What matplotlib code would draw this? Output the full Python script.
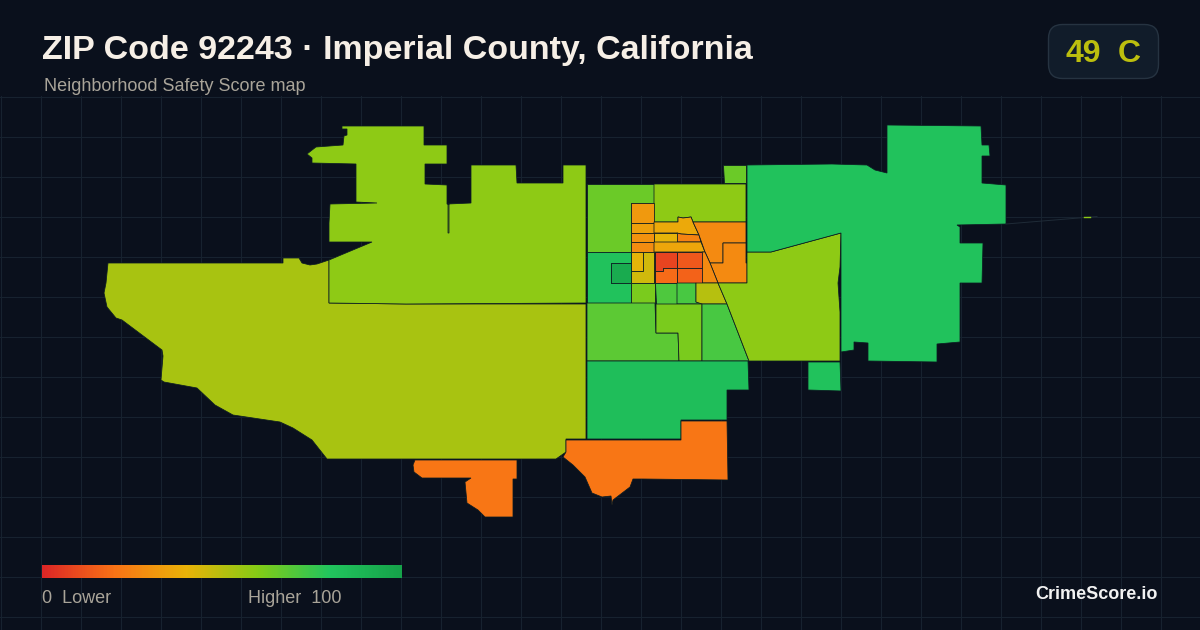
import numpy as np
import matplotlib
matplotlib.use("Agg")
import matplotlib.pyplot as plt
from matplotlib.colors import LinearSegmentedColormap
from matplotlib.patches import FancyBboxPatch, Polygon

plt.rcParams['font.family'] = ['Liberation Sans', 'DejaVu Sans']

# score scale used by the map and by the legend bar
scale_stops = [0, 0.2, 0.4, 0.6, 0.8, 1]
scale_colors = ['#dc2626', '#f97316', '#eab308', '#84cc16', '#22c55e', '#16a34a']
cmap = LinearSegmentedColormap.from_list('score', list(zip(scale_stops, scale_colors)))

title = 'ZIP Code 92243 · Imperial County, California'
subtitle = 'Neighborhood Safety Score map'
score = 49
grade = 'C'

# block groups, outlines (pixels), with their score
west = [(108,263),(195,263),(283,263),(283,258),(299,258),(302,263),(310,265),(317,264),(329,260),(329,303),
        (406,304),(586,304),(586,439),(566,439),(566,452),(556,459),(327,459),(312,440),(293,428),(280,422),
        (233,415),(215,405),(197,388),(164,382),(161,380),(163,356),(162,350),(122,320),(116,318),(107,307),
        (104,293),(106,283)]
north_west = [(342,126),(424,126),(424,145),(447,145),(447,164),(425,164),(425,184),(447,185),(447,204),(449,204),
              (449,233),(448,233),(448,204),(471,203),(471,165),(516,165),(517,183),(563,183),(563,165),(586,165),
              (586,303),(406,304),(329,303),(329,260),(372,242),(329,242),(329,223),(330,204),(377,203),(356,202),
              (356,164),(312,163),(312,158),(307,154),(316,147),(343,145),(344,136),(347,135),(347,129),(342,129)]
north_mid = [(587,184),(654,184),(654,203),(631,203),(631,252),(587,252)]
top_small = [(723,165),(746,165),(746,183),(724,183)]
top_right = [(654,184),(746,184),(746,222),(693,222),(691,217),(683,218),(678,217),(678,222),(654,222)]
orange_n = [(631,203),(654,203),(654,223),(631,223)]
orange_r2 = [(631,223),(654,223),(654,233),(631,233)]
orange_r3 = [(631,233),(654,233),(654,242),(631,242)]
orange_r4 = [(631,242),(654,242),(654,252),(631,252)]
mid_top = [(654,222),(678,222),(678,217),(683,218),(691,217),(693,222),(699,235),(681,234),(677,233),(654,233)]
mid_right = [(677,233),(681,234),(699,235),(701,242),(677,242)]
mid_yellow = [(654,233),(677,233),(677,242),(654,242)]
mid_band = [(654,242),(701,242),(705,252),(654,252)]
east_orange = [(693,222),(746,222),(746,243),(723,243),(723,263),(710,263),(705,252),(699,235)]
east_orange2 = [(723,243),(746,243),(746,263),(747,263),(747,283),(718,283),(710,263),(723,263)]
east_orange3 = [(702,252),(705,252),(710,263),(718,283),(702,283)]
red_a = [(655,252),(677,252),(677,268),(663,268),(663,271),(655,271)]
red_b = [(677,252),(702,252),(702,268),(677,268)]
red_c = [(655,271),(663,271),(663,268),(677,268),(677,283),(655,283)]
red_d = [(677,268),(702,268),(702,283),(677,283)]
yellow_a = [(631,252),(643,252),(643,271),(631,271)]
yellow_b = [(643,252),(654,252),(654,283),(631,283),(631,271),(643,271)]
west_center = [(587,252),(631,252),(631,263),(611,263),(611,283),(631,283),(631,303),(587,303)]
dark_green = [(611,263),(631,263),(631,283),(611,283)]
low_a = [(631,283),(655,283),(655,303),(631,303)]
low_b = [(655,283),(677,283),(677,304),(656,304)]
low_c = [(677,283),(696,283),(696,302),(702,303),(702,304),(677,304)]
low_yellow = [(696,283),(718,283),(727,304),(702,304),(696,302)]
south_a = [(587,303),(655,303),(656,333),(678,333),(679,361),(587,361)]
south_b = [(656,304),(702,304),(702,361),(679,361),(678,333),(656,333)]
south_c = [(702,304),(727,304),(749,361),(702,361)]
east_lime = [(747,252),(771,252),(841,233),(840,267),(838,283),(840,312),(840,361),(749,361),(727,304),(718,283),(747,283),(747,263)]
east = [(747,165),(832,164),(867,165),(875,170),(887,173),(887,125),(981,126),(982,145),(989,145),(990,156),
        (982,156),(982,183),(1006,185),(1006,224),(957,225),(960,227),(960,243),(983,243),(982,283),(960,283),
        (960,342),(937,344),(937,362),(868,361),(868,343),(854,342),(854,350),(841,352),(841,233),(771,252),(747,252)]
east_small = [(808,362),(840,362),(841,391),(808,390)]
south_green = [(587,361),(748,361),(749,390),(727,390),(727,420),(681,420),(681,439),(587,439)]
south_orange = [(566,440),(681,440),(681,421),(727,421),(728,480),(643,479),(633,479),(630,487),(613,500),(612,505),
                (611,496),(602,497),(592,493),(585,477),(573,465),(563,457),(566,452)]
south_west = [(415,460),(517,460),(517,479),(513,479),(513,517),(485,517),(478,510),(467,503),(465,482),(471,478),
              (422,478),(414,472),(413,465)]

regions = [west, north_west, north_mid, top_small, top_right, orange_n, orange_r2, orange_r3, orange_r4,
           mid_top, mid_right, mid_yellow, mid_band, east_orange, east_orange2, east_orange3,
           red_a, red_b, red_c, red_d, yellow_a, yellow_b, west_center, dark_green,
           low_a, low_b, low_c, low_yellow, south_a, south_b, south_c, east_lime, east, east_small,
           south_green, south_orange, south_west]
scores = [53, 58, 65, 65, 58, 32, 34, 30, 28,
          37, 25, 41, 36, 27, 27, 27,
          8, 13, 18, 16, 41, 45, 82, 95,
          62, 71, 72, 50, 68, 62, 72, 58, 82, 82,
          84, 21, 21]

fig = plt.figure(figsize=(12, 6.3), dpi=100, facecolor='#0a101c')
ax = fig.add_axes([0, 0, 1, 1])
ax.set_facecolor('#0a101c')
ax.axis('off')

# background grid, starts under the header
for gx in np.arange(0, 1201, 40):
    ax.plot([gx + 0.5, gx + 0.5], [96, 630], color='#17222f', lw=0.8, zorder=1)
for gy in np.arange(96, 631, 40):
    ax.plot([0, 1200], [gy + 0.5, gy + 0.5], color='#17222f', lw=0.8, zorder=1)

for pts, s in zip(regions, scores):
    ax.add_patch(Polygon(pts, closed=True, facecolor=cmap(s / 100), edgecolor='#0c1c22', lw=0.55,
                         joinstyle='miter', zorder=2))

# sliver running east of the last block
ax.plot([1006, 1097], [224, 216.5], color='#1f2b37', lw=0.7, zorder=2)
ax.plot([1084, 1090], [217, 217], color=cmap(0.58), lw=1, zorder=3)

# header
ax.text(42, 59, title, color='#f6efe6', fontsize=24.45, fontweight='bold', va='baseline', zorder=5)
ax.text(44, 91, subtitle, color='#a9a499', fontsize=13, va='baseline', zorder=5)

badge = FancyBboxPatch((1048.5, 24.5), 110, 54, boxstyle='round,pad=0,rounding_size=14',
                       facecolor='#111c2a', edgecolor='#263341', lw=1, zorder=4)
ax.add_patch(badge)
ax.text(1065, 62, str(score), color=cmap(score / 100), fontsize=23, fontweight='bold', va='baseline', zorder=5)
ax.text(1118, 62, grade, color=cmap(score / 100), fontsize=23, fontweight='bold', va='baseline', zorder=5)

# legend bar
grad = np.linspace(0, 1, 360).reshape(1, -1)
ax.imshow(grad, cmap=cmap, extent=(42, 402, 578, 565), aspect='auto', zorder=5)
ax.text(42, 603, '0  Lower', color='#a9a499', fontsize=13, va='baseline', zorder=5)
ax.text(342, 603, 'Higher  100', color='#a9a499', fontsize=13, va='baseline', ha='right', zorder=5)
ax.text(1158, 599, 'CrimeScore.io', color='#f2f2f2', fontsize=13, fontweight='bold', va='baseline', ha='right', zorder=5)

ax.set_xlim(0, 1200)
ax.set_ylim(630, 0)
fig.savefig('out.png', dpi=100, facecolor=fig.get_facecolor())
